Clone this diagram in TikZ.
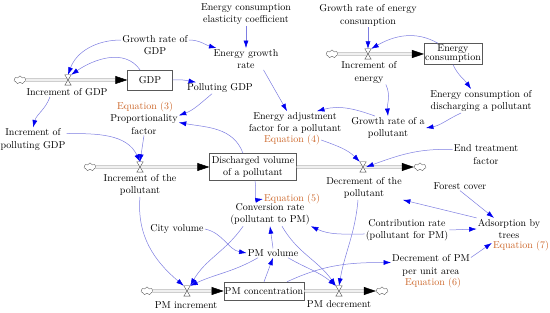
\documentclass[tikz,border=0pt]{standalone}
\usepackage{xcolor}
\usepackage{tikz}
\usetikzlibrary{shapes.symbols,arrows.meta,positioning}
\definecolor{linkblue}{RGB}{125,125,225}
\definecolor{tipblue}{RGB}{0,0,240}
\definecolor{eqorange}{RGB}{204,102,41}
\newcommand{\sdfont}{\fontsize{10}{12.5}\selectfont}
\tikzset{
  stock/.style  = {rectangle, draw=black!65, fill=white, inner sep=1pt,
                   align=center, font=\sdfont},
  source/.style = {cloud, cloud puffs=7, draw=black!60, fill=white,
                   minimum width=12pt, minimum height=8pt, inner sep=0pt},
  valve/.style  = {inner sep=0pt, minimum width=6pt, minimum height=10pt},
  var/.style    = {align=center, inner sep=1pt, font=\sdfont},
  eqn/.style    = {inner sep=1pt, font=\sdfont, text=eqorange},
  pipe/.style   = {draw=black!55, line width=0.5pt, double=black!6,
                   double distance=1.6pt,
                   -{Triangle[length=12pt,width=8pt,color=black]}},
  link/.style   = {draw=linkblue, line width=0.5pt,
                   -{Latex[length=7.5pt,width=5pt,color=tipblue]}},
}

\begin{document}
\begin{tikzpicture}[x=1pt,y=1pt]
\useasboundingbox (0,0) rectangle (550,313);
% Stocks
\node[stock, minimum width=45pt, minimum height=20pt] (gdp) at (150,233) {GDP};
\node[stock, minimum width=56pt, minimum height=21pt,
      font=\fontsize{10}{9}\selectfont] (encons) at (453,259) {Energy\\consumption};
\node[stock, minimum width=87pt, minimum height=27pt] (disch) at (253,146) {Discharged volume\\of a pollutant};
\node[stock, minimum width=75pt, minimum height=18pt] (pmc) at (264,22) {PM concentration};
% Sources and sinks
\node[source] (cg)  at ( 20,233) {};
\node[source] (ce)  at (332,259) {};
\node[source] (cpi) at ( 90,146) {};
\node[source] (cpo) at (420,146) {};
\node[source] (cmi) at (147, 22) {};
\node[source] (cmo) at (382, 22) {};
% Valves
\node[valve] (vg)  at ( 68,233) {};
\node[valve] (ve)  at (368,259) {};
\node[valve] (vpi) at (140,146) {};
\node[valve] (vpo) at (363,146) {};
\node[valve] (vmi) at (187, 22) {};
\node[valve] (vmo) at (339, 22) {};
% Pipes
\draw[pipe] (cg) -- (gdp);
\draw[pipe] (ce) -- (encons);
\draw[pipe] (cpi) -- (disch);
\draw[pipe] (disch) -- (cpo);
\draw[pipe] (cmi) -- (pmc);
\draw[pipe] (pmc) -- (cmo);
\foreach \v in {vg,ve,vpi,vpo,vmi,vmo}
  \draw[black!70, fill=white, line width=0.4pt]
    (\v.north west) -- (\v.north east) -- (\v.south west) -- (\v.south east) -- cycle;
% Flow labels
\node[var] (incgdp) at ( 67,221) {Increment of GDP};
\node[var] (incen)  at (369,240.5) {Increment of\\energy};
\node[var] (incpol) at (140,128) {Increment of the\\pollutant};
\node[var] (decpol) at (364,125) {Decrement of the\\pollutant};
\node[var] (pminc)  at (186,8) {PM increment};
\node[var] (pmdec)  at (339,9) {PM decrement};
% Auxiliaries
\node[var] (elast)   at (246,299) {Energy consumption\\elasticity coefficient};
\node[var] (egr)     at (246,254) {Energy growth\\rate};
\node[var] (grgdp)   at (155,268) {Growth rate of\\GDP};
\node[var] (polgdp)  at (220,225) {Polluting GDP};
\node[var] (prop)    at (144,188.5) {Proportionality\\factor};
\node[eqn] (eq3)     at (145,206) {Equation (3)};
\node[var] (incpgdp) at ( 33,173.5) {Increment of\\polluting GDP};
\node[var] (grenc)   at (368,297.5) {Growth rate of energy\\consumption};
\node[var] (ecdis)   at (481,212) {Energy consumption of\\discharging a pollutant};
\node[var] (grpol)   at (388,185) {Growth rate of a\\pollutant};
\node[var] (eadj)    at (295,190) {Energy adjustment\\factor for a pollutant};
\node[eqn] (eq4)     at (292,173) {Equation (4)};
\node[var] (endtr)   at (486,158.5) {End treatment\\factor};
\node[var] (forest)  at (460,127) {Forest cover};
\node[var] (adsorb)  at (509,84) {Adsorption by\\trees};
\node[eqn] (eq7)     at (521,67) {Equation (7)};
\node[var] (contr)   at (407,83) {Contribution rate\\(pollutant for PM)};
\node[var] (conv)    at (270,99) {Conversion rate\\(pollutant to PM)};
\node[eqn] (eq5)     at (292,114) {Equation (5)};
\node[var] (city)    at (177,84) {City volume};
\node[var] (pmvol)   at (273,60) {PM volume};
\node[var] (decpm)   at (431,47.5) {Decrement of PM\\per unit area};
\node[eqn] (eq6)     at (433,30) {Equation (6)};
% Information links
\draw[link] ([yshift=5pt]grgdp.west) to[out=180,in=70] (vg.north);
\draw[link] ([xshift=-10pt]gdp.north) to[out=125,in=35] (vg.north east);
\draw[link] ([yshift=5pt]grgdp.east) to[out=0,in=165] ([xshift=4pt]egr.north west);
\draw[link] (elast.south) -- (egr.north);
\draw[link] (gdp.east) to[out=5,in=170] ([xshift=10pt]polgdp.north west);
\draw[link] ([xshift=-8pt]polgdp.south) to[out=-140,in=20] ([yshift=-2pt]prop.north east);
\draw[link] ([xshift=-17pt]incgdp.south) to[out=-110,in=75] (incpgdp.north);
\draw[link] ([yshift=6pt]incpgdp.east) to[out=0,in=115] (vpi.north);
\draw[link] (prop.south) -- (vpi.north);
\draw[link] ([xshift=-10pt]disch.north) to[out=110,in=-10] ([yshift=2pt]prop.east);
\draw[link] ([xshift=-16pt]egr.south east) -- ([xshift=-8pt]eadj.north);
\draw[link] (grenc.south) -- (ve.north);
\draw[link] ([xshift=-15pt]encons.north) to[out=150,in=30] (ve.north east);
\draw[link] ([xshift=-12pt]incen.south east) to[out=-65,in=95] (grpol.north);
\draw[link] (encons.south) to[out=-65,in=125] ([xshift=-10pt]ecdis.north);
\draw[link] ([xshift=-20pt]ecdis.south) to[out=-155,in=10] (grpol.east);
\draw[link] ([xshift=-13pt]grpol.north) to[out=160,in=15] ([xshift=22pt]eadj.north);
\draw[link] (eq4.east) to[out=-20,in=135] (vpo.north west);
\draw[link] ([yshift=5pt]endtr.west) to[out=178,in=20] (vpo.east);
\draw[link] ([xshift=2pt]disch.south) to[out=-80,in=190] (eq5.west);
\draw[link] (adsorb.north west) -- (decpol.south east);
\draw[link] (forest.south) -- ([xshift=-15pt]adsorb.north);
\draw[link] (contr.east) -- (adsorb.west);
\draw[link] ([yshift=-4pt]contr.west) to[out=180,in=-25] (conv.south east);
\draw[link] ([xshift=14pt]conv.south west) to[out=-125,in=60] (vmi.north east);
\draw[link] ([xshift=12pt]conv.south) to[out=-60,in=125] (vmo.north west);
\draw[link] (incpol.south) to[out=-95,in=140] (vmi.north west);
\draw[link] (city.east) to[out=-12,in=170] (pmvol.west);
\draw[link] (pmvol.north) -- (conv.south);
\draw[link] ([xshift=-15pt]pmvol.south) to[out=-150,in=25] (vmi.north east);
\draw[link] ([xshift=15pt]pmvol.south) to[out=-30,in=140] (vmo.north west);
\draw[link] (pmc.north) -- (pmvol.south);
\draw[link] ([xshift=23pt]pmc.north) to[out=25,in=180] ([yshift=3pt]decpm.west);
\draw[link] ([xshift=-6pt]decpol.south) to[out=-95,in=80] (vmo.north);
\draw[link] ([yshift=8pt]decpm.east) -- ([yshift=3pt]eq7.west);
\end{tikzpicture}
\end{document}
